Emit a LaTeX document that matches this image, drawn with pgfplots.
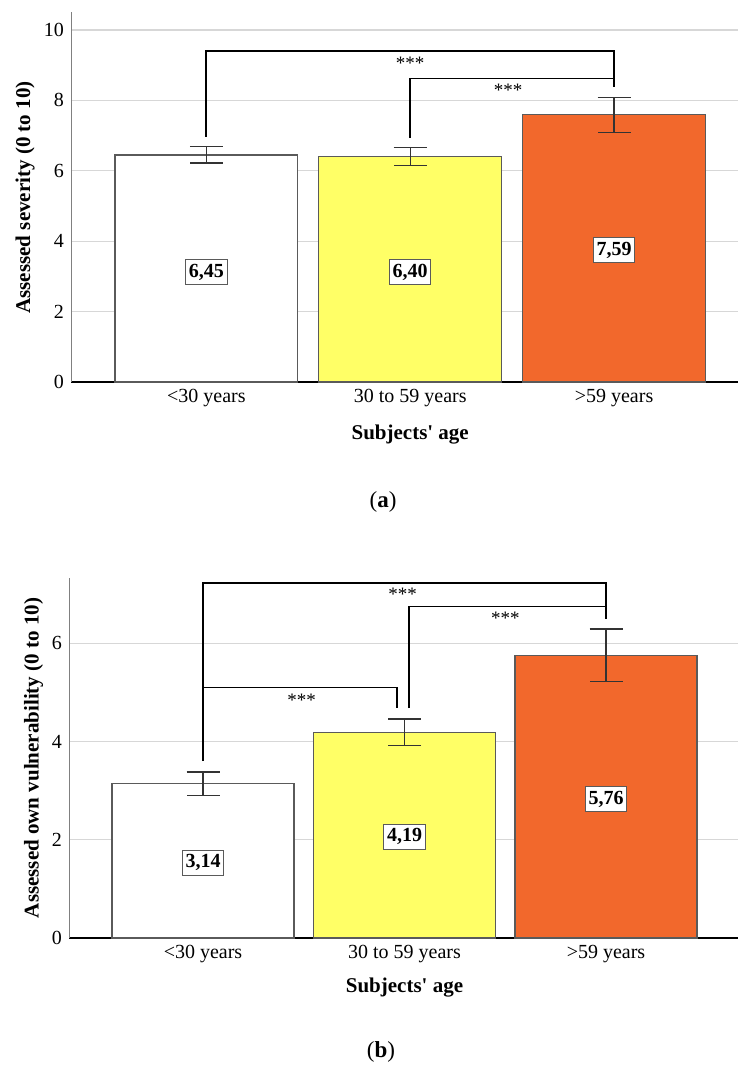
\documentclass[border=0pt]{standalone}
\usepackage{fontspec}
\setmainfont{Liberation Serif}[Ligatures=TeXOff]
\usepackage{pgfplots}
\pgfplotsset{compat=1.18}
\definecolor{baryel}{RGB}{255,255,102}
\definecolor{barora}{RGB}{242,104,44}
\definecolor{gridc}{RGB}{215,215,215}
\definecolor{edgec}{RGB}{90,90,90}
\pgfplotsset{
 panel/.style={
  scale only axis, anchor=south west,
  axis x line=bottom, axis y line=left,
  x axis line style={-, black, line width=1.3pt},
  y axis line style={-, gray, line width=0.5pt},
  xtick={0,1,2}, xticklabels={{<30 years},{30 to 59 years},{>59 years}},
  major tick length=0pt,
  ymajorgrids, grid style={gridc, line width=0.6pt},
  ymin=0,
  ybar, bar shift=0pt,
  tick label style={font=\fontsize{10}{11.5}\selectfont},
  /pgf/number format/assume math mode=true,
  clip=false,
  error bars/y dir=both, error bars/y explicit,
  error bars/error bar style={black!80, line width=0.6pt},
  error bars/error mark options={rotate=90, black!80, line width=0.6pt, mark size=8.25pt},
 },
}
\tikzset{
 vlab/.style={draw=edgec, fill=white, font=\bfseries\fontsize{10}{11.5}\selectfont, inner xsep=1.6pt, inner ysep=2.1pt, line width=0.5pt},
 stars/.style={font=\fontsize{9.5}{10}\selectfont, yshift=-1.5pt},
 brk/.style={black, line width=0.9pt},
}
\begin{document}
\begin{tikzpicture}
\path[use as bounding box] (0,0) rectangle (369.5pt,534pt);
% ---------- panel (a)
\begin{axis}[panel, at={(35.5pt,343pt)}, width=333.5pt, height=185pt,
  xmin=-0.664, xmax=2.608, ymax=10.51, ytick={0,2,4,6,8,10}, bar width=0.897]
\addplot[fill=white, draw=edgec, line width=0.6pt] coordinates {(0,6.45) +- (0,0.23)};
\addplot[fill=baryel, draw=edgec, line width=0.6pt] coordinates {(1,6.40) +- (0,0.25)};
\addplot[fill=barora, draw=edgec, line width=0.6pt] coordinates {(2,7.59) +- (0,0.50)};
\node[vlab] at (axis cs:0,3.12) {6,45};
\node[vlab] at (axis cs:1,3.12) {6,40};
\node[vlab] at (axis cs:2,3.75) {7,59};
\draw[brk] (axis cs:0,6.97) -- (axis cs:0,9.40) -- (axis cs:2,9.40) -- (axis cs:2,8.39);
\draw[brk] (axis cs:1,6.94) -- (axis cs:1,8.62) -- (axis cs:2,8.62);
\node[stars] at (axis cs:1.0,9.15) {***};
\node[stars] at (axis cs:1.48,8.38) {***};
\node[font=\bfseries\fontsize{10.5}{12}\selectfont, yshift=-26.5pt] at (axis cs:1,0) {Subjects' age};
\end{axis}
\node[rotate=90, font=\bfseries\fontsize{10.5}{12}\selectfont] at (12.5pt,435.25pt) {Assessed severity (0 to 10)};
\node[font=\fontsize{11.5}{13}\selectfont] at (191.5pt,283pt) {(\textbf{a})};
% ---------- panel (b)
\begin{axis}[panel, at={(34.5pt,65pt)}, width=334.5pt, height=180pt,
  xmin=-0.665, xmax=2.655, ymax=7.33, ytick={0,2,4,6}, bar width=0.903]
\addplot[fill=white, draw=edgec, line width=0.6pt] coordinates {(0,3.14) +- (0,0.24)};
\addplot[fill=baryel, draw=edgec, line width=0.6pt] coordinates {(1,4.19) +- (0,0.27)};
\addplot[fill=barora, draw=edgec, line width=0.6pt] coordinates {(2,5.76) +- (0,0.53)};
\node[vlab] at (axis cs:0,1.53) {3,14};
\node[vlab] at (axis cs:1,2.06) {4,19};
\node[vlab] at (axis cs:2,2.83) {5,76};
\draw[brk] (axis cs:0,3.60) -- (axis cs:0,7.23) -- (axis cs:2,7.23) -- (axis cs:2,6.49);
\draw[brk] (axis cs:1.022,4.68) -- (axis cs:1.022,6.75) -- (axis cs:2,6.75);
\draw[brk] (axis cs:0,5.10) -- (axis cs:0.964,5.10) -- (axis cs:0.964,4.68);
\node[stars] at (axis cs:0.99,7.05) {***};
\node[stars] at (axis cs:1.50,6.58) {***};
\node[stars] at (axis cs:0.49,4.91) {***};
\node[font=\bfseries\fontsize{10.5}{12}\selectfont, yshift=-25pt] at (axis cs:1,0) {Subjects' age};
\end{axis}
\node[rotate=90, font=\bfseries\fontsize{10.5}{12}\selectfont] at (16.75pt,155pt) {Assessed own vulnerability (0 to 10)};
\node[font=\fontsize{11.5}{13}\selectfont] at (190.5pt,8pt) {(\textbf{b})};
\end{tikzpicture}
\end{document}
